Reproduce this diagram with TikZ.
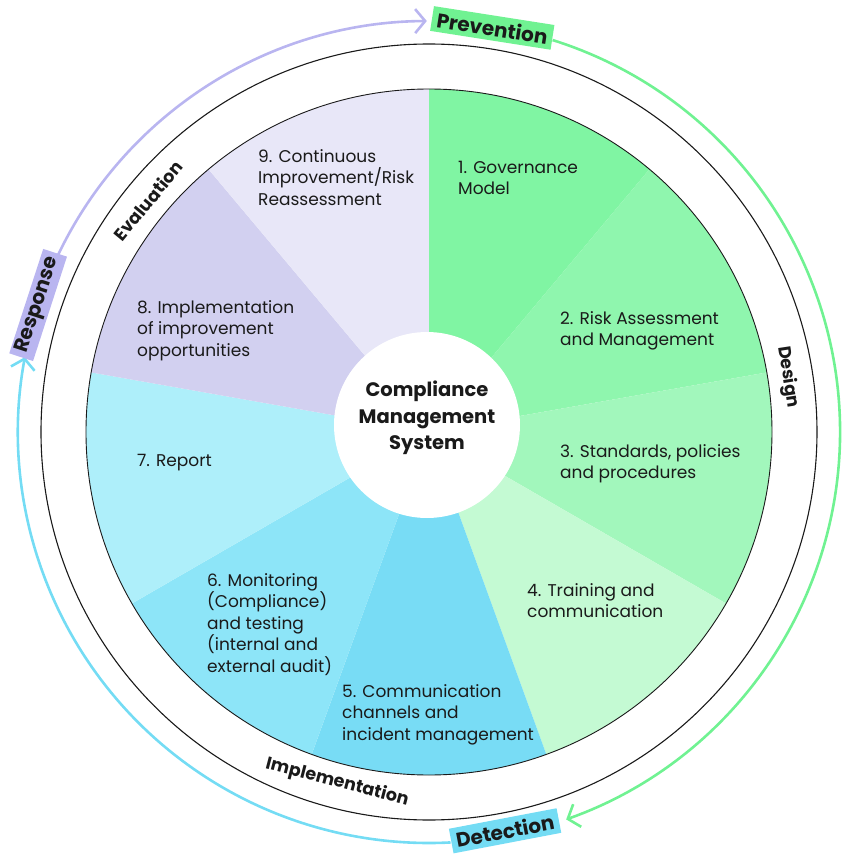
\documentclass[tikz,border=0pt]{standalone}
\usepackage{fontspec}
\setmainfont{Poppins}
\usetikzlibrary{arrows.meta}

\definecolor{ink}{HTML}{1A1A1A}
\definecolor{seg1}{HTML}{80F5A3}
\definecolor{seg2}{HTML}{8FF6AE}
\definecolor{seg3}{HTML}{A2F7BC}
\definecolor{seg4}{HTML}{C4FAD3}
\definecolor{seg5}{HTML}{78DCF5}
\definecolor{seg6}{HTML}{8DE5F8}
\definecolor{seg7}{HTML}{AEEFFA}
\definecolor{seg8}{HTML}{D2D0F0}
\definecolor{seg9}{HTML}{E8E7F8}
\definecolor{lavline}{HTML}{B9B5F0}
\definecolor{greenline}{HTML}{70F292}
\definecolor{cyanline}{HTML}{74DCF4}

\begin{document}
\begin{tikzpicture}[x=1pt, y=1pt,
    steptext/.style={anchor=north west, align=left, inner sep=0pt, text=ink, font=\fontsize{17}{21.5}\selectfont},
    phase/.style={inner sep=0pt, text=ink, font=\bfseries\fontsize{17.5}{19}\selectfont},
    cyclebox/.style={inner xsep=5pt, inner ysep=0pt, minimum height=25pt, text=ink, font=\bfseries\fontsize{20}{22}\selectfont},
    cyclearc/.style={line width=2.6pt, -{Straight Barb[length=10pt, width=24pt, line width=2.6pt]}}]

    \useasboundingbox (-429,-425) rectangle (414,432);

    % Segments
    \foreach \c [count=\i] in {seg1,seg2,seg3,seg4,seg5,seg6,seg7,seg8,seg9}
        \fill[\c] (0,0) -- ({130-40*\i}:343) arc[start angle={130-40*\i}, end angle={90-40*\i}, radius=343] -- cycle;

    % Rings
    \draw[ink, line width=0.9pt] (0,0) circle[radius=343];
    \draw[ink, line width=1.1pt] (0,0) circle[radius=388];

    % Centre
    \node[circle, fill=white, minimum size=186pt, inner sep=0pt] (hub) at (-2,7) {};
    \node[align=center, text=ink, font=\bfseries\fontsize{19.5}{26.5}\selectfont] (cms) at (-2,14) {Compliance\\Management\\System};

    % Steps
    \node[steptext] (s1) at (29,271) {1. Governance\\Model};
    \node[steptext] (s2) at (131,121) {2. Risk Assessment\\and Management};
    \node[steptext] (s3) at (131,-12) {3. Standards, policies\\and procedures};
    \node[steptext] (s4) at (98,-151) {4. Training and\\communication};
    \node[steptext] (s5) at (-87,-252) {5. Communication\\channels and\\incident management};
    \node[steptext] (s6) at (-222,-141) {6. Monitoring\\(Compliance)\\and testing\\(internal and\\external audit)};
    \node[steptext] (s7) at (-292,-22) {7. Report};
    \node[steptext] (s8) at (-292,132) {8. Implementation\\of improvement\\opportunities};
    \node[steptext] (s9) at (-171,283) {9. Continuous\\Improvement/Risk\\Reassessment};

    % Phases
    \node[phase, rotate=50.5] (eval) at (140.5:364) {Evaluation};
    \node[phase, rotate=-81.3] (design) at (8.7:363) {Design};
    \node[phase, rotate=-14.7] (impl) at (-104.7:362) {Implementation};

    % Cycle
    \coordinate (lav-start) at (155:411);
    \coordinate (green-start) at (72.5:411);
    \coordinate (cyan-start) at (-87:411);
    \draw[cyclearc, lavline] (lav-start) arc[start angle=155, end angle=90.3, radius=411];
    \draw[cyclearc, greenline] (green-start) arc[start angle=72.5, end angle=-70.5, radius=411];
    \draw[cyclearc, cyanline] (cyan-start) arc[start angle=-87, end angle=-190.5, radius=411];

    \node[cyclebox, fill=greenline, rotate=-8.9] (prev) at (81.1:409) {Prevention};
    \node[cyclebox, fill=cyanline, rotate=10.8] (detect) at (-79.2:406) {Detection};
    \node[cyclebox, fill=lavline, rotate=72] (resp) at (162:411) {Response};
\end{tikzpicture}
\end{document}
